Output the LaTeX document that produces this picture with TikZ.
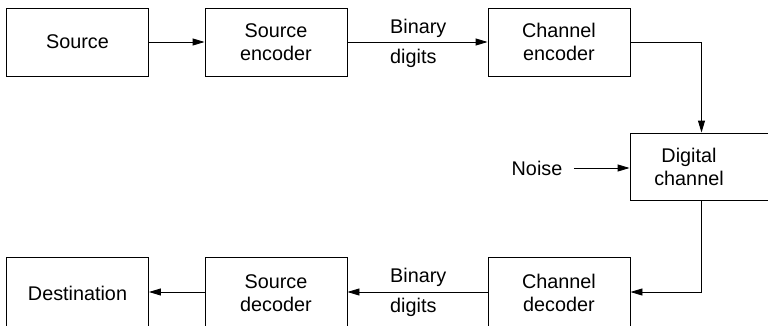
\documentclass[tikz,border=0pt]{standalone}
\usepackage{fontspec}
\setmainfont{Liberation Sans}
\usetikzlibrary{arrows.meta,positioning}
\begin{document}
\begin{tikzpicture}[x=1pt,y=1pt,
  every node/.style={font=\fontsize{19.8}{23}\selectfont},
  box/.style={draw, line width=0.9pt, minimum width=142, minimum height=68, inner sep=0pt, align=center},
  lbl/.style={align=center, inner sep=3.3pt},
  arr/.style={line width=0.9pt, -{Triangle[length=12pt,width=7pt]}},
  wire/.style={line width=0.9pt}]
\useasboundingbox (0,0) rectangle (768,325);
\clip (0,0) rectangle (768,325);
% top row
\node[box] (src)  at (77.5,283) {Source};
\node[box] (senc) at (276,283) {Source\\encoder};
\node[box] (cenc) at (559,283) {Channel\\encoder};
% channel
\node[box, minimum height=67, minimum width=150] (dc) at (705,158.5) {};
\coordinate (dcin) at ([xshift=-3.5pt]dc.north);
\coordinate (dcout) at ([xshift=-3.5pt]dc.south);
\node[lbl] (dct) at (689,158.5) {Digital\\channel};
\node[lbl] (noise) at (537,157) {Noise};
% bottom row
\node[box, minimum height=72] (dest) at (77.5,32) {Destination};
\node[box, minimum height=72] (sdec) at (276,32) {Source\\decoder};
\node[box, minimum height=72] (cdec) at (559,32) {Channel\\decoder};
% binary digits labels
\node[anchor=base west, inner sep=0pt] (b1) at (390,292) {Binary};
\node[anchor=base west, inner sep=0pt] (b2) at (390,262) {digits};
\node[anchor=base west, inner sep=0pt] (b3) at (390,43) {Binary};
\node[anchor=base west, inner sep=0pt] (b4) at (390,13) {digits};
% connectors
\draw[arr] (src) -- (senc);
\draw[arr] (senc) -- (cenc);
\draw[arr] (cenc.east) -| (dcin);
\draw[arr] ([xshift=8pt]noise.east) -- (noise.east -| dc.west);
\draw[arr] (dcout) |- ([yshift=1pt]cdec.east);
\draw[arr] ([yshift=1pt]cdec.west) -- ([yshift=1pt]sdec.east);
\draw[arr] ([yshift=1pt]sdec.west) -- ([yshift=1pt]dest.east);
\end{tikzpicture}
\end{document}
